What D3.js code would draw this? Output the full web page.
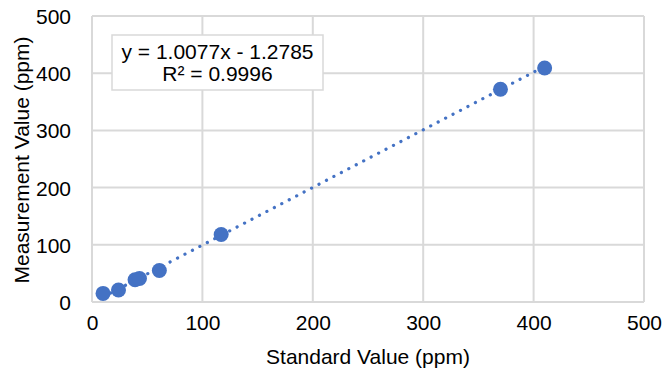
<!DOCTYPE html>
<html lang="en">
<head>
  <meta charset="utf-8">
  <title>Standard vs Measurement</title>
  <script src="https://d3js.org/d3.v7.min.js"></script>
  <style>
    body { margin: 0; background: #fff; }
    text { font-family: "Liberation Sans", Arial, sans-serif; fill: #000; }
    .tick text { font-size: 21px; }
    .title { font-size: 21px; }
    .eq { font-size: 21px; }
  </style>
</head>
<body>
  <svg width="662" height="377"></svg>
  <script>
    // data
    var standard = [10, 24, 39, 43, 61, 117, 370, 410];
    var measured = [15, 21, 39, 41, 55, 118, 372, 409];
    var ticks = [0, 100, 200, 300, 400, 500];
    var slope = 1.0077, intercept = -1.2785;
    var eqLines = ["y = 1.0077x - 1.2785", "R\u00b2 = 0.9996"];

    var svg = d3.select("svg"),
      margin = {top: 16, right: 18, bottom: 75, left: 92},
      width = 662 - margin.left - margin.right,
      height = 377 - margin.top - margin.bottom,
      g = svg.append("g").attr("transform", "translate(" + margin.left + "," + margin.top + ")");

    var x = d3.scaleLinear().domain([0, 500]).range([0, width]);
    var y = d3.scaleLinear().domain([0, 500]).range([height, 0]);

    // gridlines
    g.append("g").selectAll("line").data(ticks).join("line")
      .attr("x1", d => x(d)).attr("x2", d => x(d))
      .attr("y1", 0).attr("y2", height)
      .attr("stroke", "#d9d9d9").attr("stroke-width", 2);
    g.append("g").selectAll("line").data(ticks).join("line")
      .attr("x1", 0).attr("x2", width)
      .attr("y1", d => y(d)).attr("y2", d => y(d))
      .attr("stroke", "#d9d9d9").attr("stroke-width", 2);

    // axes (labels only)
    var xAxis = g.append("g").attr("transform", "translate(0," + height + ")")
      .call(d3.axisBottom(x).tickValues(ticks).tickSize(0).tickPadding(13));
    var yAxis = g.append("g")
      .call(d3.axisLeft(y).tickValues(ticks).tickSize(0).tickPadding(21));
    xAxis.select(".domain").remove();
    yAxis.select(".domain").remove();
    svg.selectAll(".tick text").attr("font-family", null).attr("font-size", null);
    yAxis.selectAll(".tick text").attr("dy", "0.36em");

    // trendline
    var xr = d3.extent(standard);
    g.append("line")
      .attr("x1", x(xr[0])).attr("y1", y(slope * xr[0] + intercept))
      .attr("x2", x(xr[1])).attr("y2", y(slope * xr[1] + intercept))
      .attr("stroke", "#4472c4").attr("stroke-width", 3.2)
      .attr("stroke-linecap", "round")
      .attr("stroke-dasharray", "0.1 8.3");

    // points
    g.append("g").selectAll("circle").data(standard).join("circle")
      .attr("cx", d => x(d))
      .attr("cy", (d, i) => y(measured[i]))
      .attr("r", 7.5)
      .attr("fill", "#4472c4");

    // equation box
    var box = svg.append("g");
    box.append("rect")
      .attr("x", 112).attr("y", 35).attr("width", 211).attr("height", 55)
      .attr("fill", "#fff").attr("stroke", "#d9d9d9").attr("stroke-width", 1.5);
    box.selectAll("text").data(eqLines).join("text")
      .attr("class", "eq")
      .attr("x", 217.5)
      .attr("y", (d, i) => 59 + i * 21.5)
      .attr("text-anchor", "middle")
      .text(d => d);

    // axis titles
    svg.append("text").attr("class", "title")
      .attr("x", 368).attr("y", 364)
      .attr("text-anchor", "middle")
      .text("Standard Value (ppm)");
    svg.append("text").attr("class", "title")
      .attr("transform", "translate(29,160) rotate(-90)")
      .attr("text-anchor", "middle")
      .text("Measurement Value (ppm)");
  </script>
</body>
</html>
